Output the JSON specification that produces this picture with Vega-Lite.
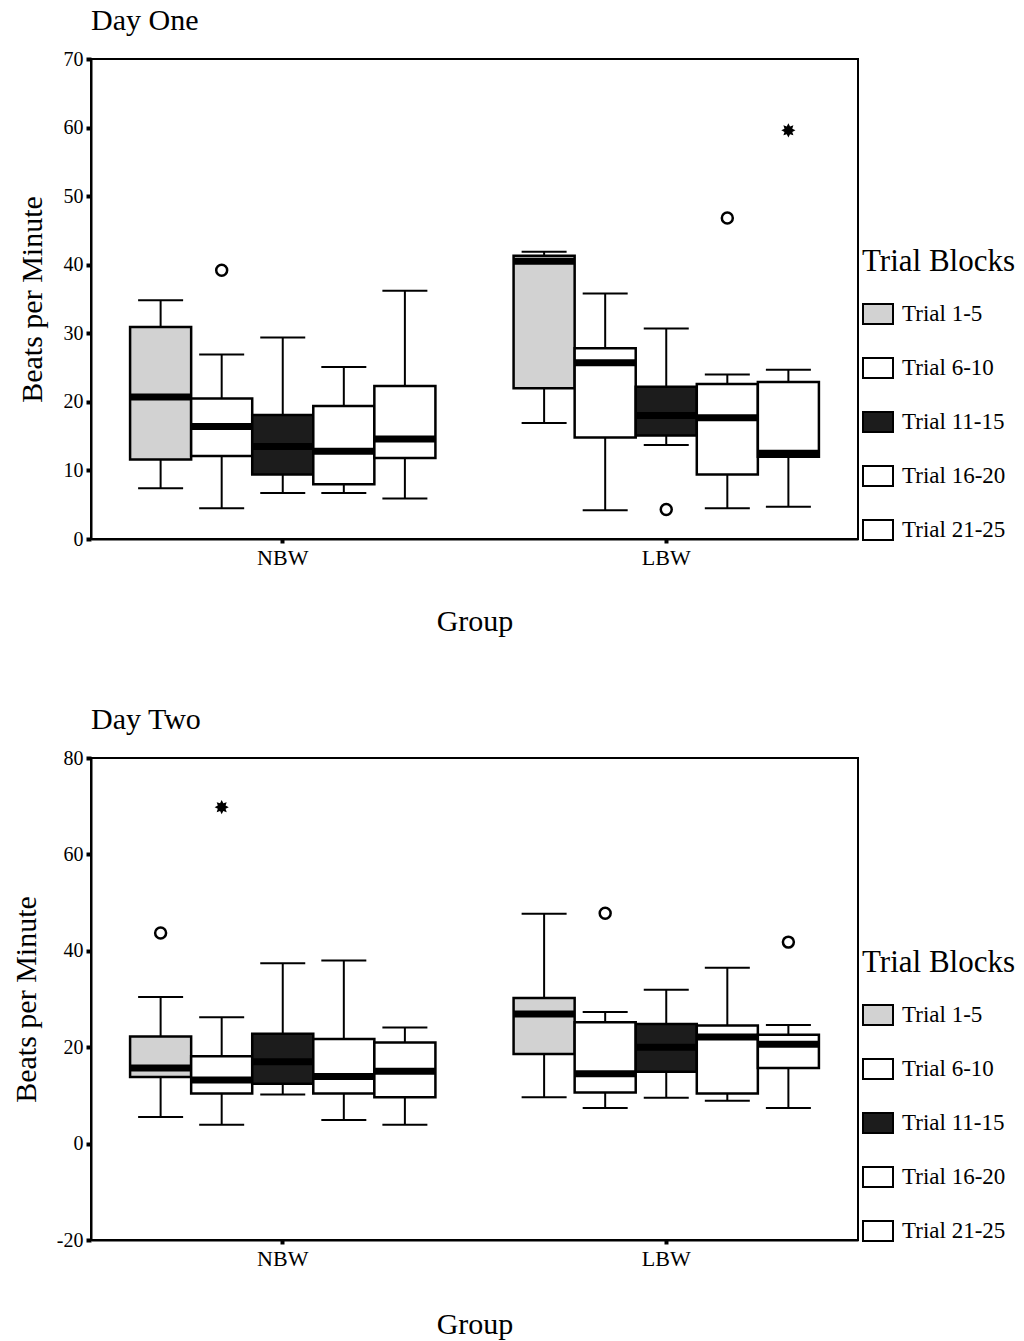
{
  "$schema": "https://vega.github.io/schema/vega-lite/v6.json",
  "padding": {"left": 10, "top": 5, "right": 0, "bottom": 0},
  "background": "white",
  "align": "none",
  "spacing": 67,
  "config": {
    "font": "Liberation Serif",
    "view": {"stroke": "black", "strokeWidth": 2},
    "axis": {"domainColor": "black", "domainWidth": 2, "tickColor": "black", "tickWidth": 4, "tickSize": 5, "labelColor": "black", "labelFontSize": 20, "titleFontSize": 30, "titleFontWeight": "normal", "titleColor": "black", "grid": false, "labelPadding": 3},
    "title": {"fontSize": 30, "fontWeight": "normal", "color": "black", "anchor": "start", "frame": "group", "offset": 13}
  },
  "datasets": {
    "d1box": [
      {"group": "NBW", "trial": "Trial 1-5", "lo": 7.4, "q1": 11.6, "med": 20.7, "q3": 30.9, "hi": 34.8},
      {"group": "NBW", "trial": "Trial 6-10", "lo": 4.5, "q1": 12.1, "med": 16.4, "q3": 20.5, "hi": 26.9},
      {"group": "NBW", "trial": "Trial 11-15", "lo": 6.7, "q1": 9.4, "med": 13.5, "q3": 18.1, "hi": 29.4},
      {"group": "NBW", "trial": "Trial 16-20", "lo": 6.7, "q1": 8.0, "med": 12.8, "q3": 19.4, "hi": 25.1},
      {"group": "NBW", "trial": "Trial 21-25", "lo": 5.9, "q1": 11.8, "med": 14.6, "q3": 22.3, "hi": 36.2},
      {"group": "LBW", "trial": "Trial 1-5", "lo": 16.9, "q1": 22.0, "med": 40.5, "q3": 41.3, "hi": 41.9},
      {"group": "LBW", "trial": "Trial 6-10", "lo": 4.2, "q1": 14.8, "med": 25.7, "q3": 27.8, "hi": 35.8},
      {"group": "LBW", "trial": "Trial 11-15", "lo": 13.7, "q1": 15.1, "med": 18.0, "q3": 22.2, "hi": 30.7},
      {"group": "LBW", "trial": "Trial 16-20", "lo": 4.5, "q1": 9.4, "med": 17.7, "q3": 22.6, "hi": 24.0},
      {"group": "LBW", "trial": "Trial 21-25", "lo": 4.7, "q1": 12.0, "med": 12.5, "q3": 22.9, "hi": 24.7}
    ],
    "d1circ": [
      {"group": "NBW", "trial": "Trial 6-10", "v": 39.2},
      {"group": "LBW", "trial": "Trial 11-15", "v": 4.3},
      {"group": "LBW", "trial": "Trial 16-20", "v": 46.8}
    ],
    "d1star": [
      {"group": "LBW", "trial": "Trial 21-25", "v": 59.6}
    ],
    "d2box": [
      {"group": "NBW", "trial": "Trial 1-5", "lo": 5.5, "q1": 13.8, "med": 15.7, "q3": 22.2, "hi": 30.4},
      {"group": "NBW", "trial": "Trial 6-10", "lo": 3.9, "q1": 10.4, "med": 13.2, "q3": 18.1, "hi": 26.2},
      {"group": "NBW", "trial": "Trial 11-15", "lo": 10.2, "q1": 12.4, "med": 17.0, "q3": 22.8, "hi": 37.4},
      {"group": "NBW", "trial": "Trial 16-20", "lo": 4.9, "q1": 10.4, "med": 13.9, "q3": 21.7, "hi": 38.0},
      {"group": "NBW", "trial": "Trial 21-25", "lo": 3.9, "q1": 9.6, "med": 15.0, "q3": 21.0, "hi": 24.1},
      {"group": "LBW", "trial": "Trial 1-5", "lo": 9.6, "q1": 18.6, "med": 26.9, "q3": 30.2, "hi": 47.7},
      {"group": "LBW", "trial": "Trial 6-10", "lo": 7.4, "q1": 10.6, "med": 14.5, "q3": 25.2, "hi": 27.3},
      {"group": "LBW", "trial": "Trial 11-15", "lo": 9.5, "q1": 14.9, "med": 20.0, "q3": 24.8, "hi": 31.9},
      {"group": "LBW", "trial": "Trial 16-20", "lo": 8.9, "q1": 10.4, "med": 22.1, "q3": 24.5, "hi": 36.5},
      {"group": "LBW", "trial": "Trial 21-25", "lo": 7.4, "q1": 15.7, "med": 20.6, "q3": 22.6, "hi": 24.6}
    ],
    "d2circ": [
      {"group": "NBW", "trial": "Trial 1-5", "v": 43.7},
      {"group": "LBW", "trial": "Trial 6-10", "v": 47.8},
      {"group": "LBW", "trial": "Trial 21-25", "v": 41.8}
    ],
    "d2star": [
      {"group": "NBW", "trial": "Trial 6-10", "v": 69.8}
    ]
  },
  "resolve": {"scale": {"fill": "independent", "xOffset": "independent"}, "legend": {"fill": "independent"}},
  "vconcat": [
    {
      "title": {"text": "Day One"},
      "width": 767,
      "height": 480,
      "encoding": {
        "x": {"field": "group", "type": "nominal", "sort": ["NBW", "LBW"], "scale": {"paddingInner": 0, "paddingOuter": 0}, "axis": {"title": "Group", "labelAngle": 0, "labelFontSize": 22, "titlePadding": 38, "tickSize": 4, "labelPadding": 4}},
        "xOffset": {"field": "trial", "type": "nominal", "sort": ["Trial 1-5", "Trial 6-10", "Trial 11-15", "Trial 16-20", "Trial 21-25"], "scale": {"domain": ["Trial 1-5", "Trial 6-10", "Trial 11-15", "Trial 16-20", "Trial 21-25"], "paddingInner": 0, "paddingOuter": 0.64}}
      },
      "layer": [
        {"data": {"name": "d1box"}, "mark": {"type": "rule", "stroke": "black", "strokeWidth": 2},
         "encoding": {"y": {"field": "lo", "type": "quantitative", "scale": {"domain": [0, 70], "nice": false}, "axis": {"title": "Beats per Minute", "values": [0, 10, 20, 30, 40, 50, 60, 70], "titlePadding": 16}}, "y2": {"field": "hi"}}},
        {"data": {"name": "d1box"}, "mark": {"type": "tick", "color": "black", "opacity": 1, "thickness": 2, "size": 45},
         "encoding": {"y": {"field": "lo", "type": "quantitative", "scale": {"domain": [0, 70], "nice": false}, "axis": {"title": "Beats per Minute", "values": [0, 10, 20, 30, 40, 50, 60, 70], "titlePadding": 16}}}},
        {"data": {"name": "d1box"}, "mark": {"type": "tick", "color": "black", "opacity": 1, "thickness": 2, "size": 45},
         "encoding": {"y": {"field": "hi", "type": "quantitative", "scale": {"domain": [0, 70], "nice": false}, "axis": {"title": "Beats per Minute", "values": [0, 10, 20, 30, 40, 50, 60, 70], "titlePadding": 16}}}},
        {"data": {"name": "d1box"}, "mark": {"type": "bar", "stroke": "black", "strokeWidth": 2.5, "opacity": 1},
         "encoding": {
           "y": {"field": "q1", "type": "quantitative", "scale": {"domain": [0, 70], "nice": false}, "axis": {"title": "Beats per Minute", "values": [0, 10, 20, 30, 40, 50, 60, 70], "titlePadding": 16}},
           "y2": {"field": "q3"},
           "fill": {"field": "trial", "type": "nominal", "scale": {"domain": ["Trial 1-5", "Trial 6-10", "Trial 11-15", "Trial 16-20", "Trial 21-25"], "range": ["#d2d2d2", "#ffffff", "#1c1c1c", "#ffffff", "#ffffff"]},
             "legend": {"title": "Trial Blocks", "orient": "none", "legendX": 771, "legendY": 188, "symbolType": "M-1,-0.667H1V0.667H-1Z", "symbolSize": 900, "symbolStrokeColor": "black", "symbolStrokeWidth": 2, "symbolOpacity": 1, "labelFontSize": 23, "labelColor": "black", "titleFontSize": 31, "titleFontWeight": "normal", "titleColor": "black", "rowPadding": 23, "titlePadding": 20, "labelOffset": 8}}
         }},
        {"data": {"name": "d1box"}, "mark": {"type": "tick", "color": "black", "opacity": 1, "thickness": 7, "size": 61},
         "encoding": {"y": {"field": "med", "type": "quantitative", "scale": {"domain": [0, 70], "nice": false}, "axis": {"title": "Beats per Minute", "values": [0, 10, 20, 30, 40, 50, 60, 70], "titlePadding": 16}}}},
        {"data": {"name": "d1circ"}, "mark": {"type": "point", "shape": "circle", "filled": false, "stroke": "black", "strokeWidth": 2.5, "size": 120, "opacity": 1},
         "encoding": {"y": {"field": "v", "type": "quantitative", "scale": {"domain": [0, 70], "nice": false}, "axis": {"title": "Beats per Minute", "values": [0, 10, 20, 30, 40, 50, 60, 70], "titlePadding": 16}}}},
        {"data": {"name": "d1star"}, "mark": {"type": "point", "shape": "M0,-1L0.23,-0.55L0.707,-0.707L0.55,-0.23L1,0L0.55,0.23L0.707,0.707L0.23,0.55L0,1L-0.23,0.55L-0.707,0.707L-0.55,0.23L-1,0L-0.55,-0.23L-0.707,-0.707L-0.23,-0.55Z", "filled": true, "fill": "black", "size": 200, "opacity": 1},
         "encoding": {"y": {"field": "v", "type": "quantitative", "scale": {"domain": [0, 70], "nice": false}, "axis": {"title": "Beats per Minute", "values": [0, 10, 20, 30, 40, 50, 60, 70], "titlePadding": 16}}}}
      ]
    },
    {
      "title": {"text": "Day Two"},
      "width": 767,
      "height": 482,
      "encoding": {
        "x": {"field": "group", "type": "nominal", "sort": ["NBW", "LBW"], "scale": {"paddingInner": 0, "paddingOuter": 0}, "axis": {"title": "Group", "labelAngle": 0, "labelFontSize": 22, "titlePadding": 40, "tickSize": 4, "labelPadding": 4}},
        "xOffset": {"field": "trial", "type": "nominal", "sort": ["Trial 1-5", "Trial 6-10", "Trial 11-15", "Trial 16-20", "Trial 21-25"], "scale": {"domain": ["Trial 1-5", "Trial 6-10", "Trial 11-15", "Trial 16-20", "Trial 21-25"], "paddingInner": 0, "paddingOuter": 0.64}}
      },
      "layer": [
        {"data": {"name": "d2box"}, "mark": {"type": "rule", "stroke": "black", "strokeWidth": 2},
         "encoding": {"y": {"field": "lo", "type": "quantitative", "scale": {"domain": [-20, 80], "nice": false}, "axis": {"title": "Beats per Minute", "values": [-20, 0, 20, 40, 60, 80], "labelExpr": "'' + datum.value", "titlePadding": 15}}, "y2": {"field": "hi"}}},
        {"data": {"name": "d2box"}, "mark": {"type": "tick", "color": "black", "opacity": 1, "thickness": 2, "size": 45},
         "encoding": {"y": {"field": "lo", "type": "quantitative", "scale": {"domain": [-20, 80], "nice": false}, "axis": {"title": "Beats per Minute", "values": [-20, 0, 20, 40, 60, 80], "labelExpr": "'' + datum.value", "titlePadding": 15}}}},
        {"data": {"name": "d2box"}, "mark": {"type": "tick", "color": "black", "opacity": 1, "thickness": 2, "size": 45},
         "encoding": {"y": {"field": "hi", "type": "quantitative", "scale": {"domain": [-20, 80], "nice": false}, "axis": {"title": "Beats per Minute", "values": [-20, 0, 20, 40, 60, 80], "labelExpr": "'' + datum.value", "titlePadding": 15}}}},
        {"data": {"name": "d2box"}, "mark": {"type": "bar", "stroke": "black", "strokeWidth": 2.5, "opacity": 1},
         "encoding": {
           "y": {"field": "q1", "type": "quantitative", "scale": {"domain": [-20, 80], "nice": false}, "axis": {"title": "Beats per Minute", "values": [-20, 0, 20, 40, 60, 80], "labelExpr": "'' + datum.value", "titlePadding": 15}},
           "y2": {"field": "q3"},
           "fill": {"field": "trial", "type": "nominal", "scale": {"domain": ["Trial 1-5", "Trial 6-10", "Trial 11-15", "Trial 16-20", "Trial 21-25"], "range": ["#d2d2d2", "#ffffff", "#1c1c1c", "#ffffff", "#ffffff"]},
             "legend": {"title": "Trial Blocks", "orient": "none", "legendX": 771, "legendY": 190, "symbolType": "M-1,-0.667H1V0.667H-1Z", "symbolSize": 900, "symbolStrokeColor": "black", "symbolStrokeWidth": 2, "symbolOpacity": 1, "labelFontSize": 23, "labelColor": "black", "titleFontSize": 31, "titleFontWeight": "normal", "titleColor": "black", "rowPadding": 23, "titlePadding": 20, "labelOffset": 8}}
         }},
        {"data": {"name": "d2box"}, "mark": {"type": "tick", "color": "black", "opacity": 1, "thickness": 7, "size": 61},
         "encoding": {"y": {"field": "med", "type": "quantitative", "scale": {"domain": [-20, 80], "nice": false}, "axis": {"title": "Beats per Minute", "values": [-20, 0, 20, 40, 60, 80], "labelExpr": "'' + datum.value", "titlePadding": 15}}}},
        {"data": {"name": "d2circ"}, "mark": {"type": "point", "shape": "circle", "filled": false, "stroke": "black", "strokeWidth": 2.5, "size": 120, "opacity": 1},
         "encoding": {"y": {"field": "v", "type": "quantitative", "scale": {"domain": [-20, 80], "nice": false}, "axis": {"title": "Beats per Minute", "values": [-20, 0, 20, 40, 60, 80], "labelExpr": "'' + datum.value", "titlePadding": 15}}}},
        {"data": {"name": "d2star"}, "mark": {"type": "point", "shape": "M0,-1L0.23,-0.55L0.707,-0.707L0.55,-0.23L1,0L0.55,0.23L0.707,0.707L0.23,0.55L0,1L-0.23,0.55L-0.707,0.707L-0.55,0.23L-1,0L-0.55,-0.23L-0.707,-0.707L-0.23,-0.55Z", "filled": true, "fill": "black", "size": 200, "opacity": 1},
         "encoding": {"y": {"field": "v", "type": "quantitative", "scale": {"domain": [-20, 80], "nice": false}, "axis": {"title": "Beats per Minute", "values": [-20, 0, 20, 40, 60, 80], "labelExpr": "'' + datum.value", "titlePadding": 15}}}}
      ]
    }
  ]
}
